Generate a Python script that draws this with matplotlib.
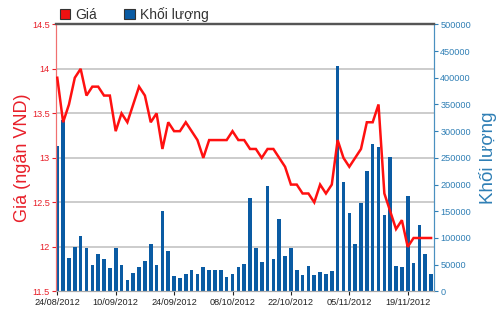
import matplotlib
matplotlib.use("Agg")
import matplotlib.pyplot as plt
from matplotlib.patches import Patch
import numpy as np
import pandas as pd

plt.rcParams['font.family'] = ['Liberation Sans', 'DejaVu Sans']

# trading days 24/08/2012 .. 23/11/2012 (03/09/2012 holiday)
dates = pd.bdate_range("2012-08-24", "2012-11-23", freq="C", holidays=["2012-09-03"])
date_labels = [d.strftime("%d/%m/%Y") for d in dates]

price = [13.9, 13.4, 13.6, 13.9, 14.0, 13.7, 13.8, 13.8, 13.7, 13.7,
         13.3, 13.5, 13.4, 13.6, 13.8, 13.7, 13.4, 13.5, 13.1, 13.4,
         13.3, 13.3, 13.4, 13.3, 13.2, 13.0, 13.2, 13.2, 13.2, 13.2,
         13.3, 13.2, 13.2, 13.1, 13.1, 13.0, 13.1, 13.1, 13.0, 12.9,
         12.7, 12.7, 12.6, 12.6, 12.5, 12.7, 12.6, 12.7, 13.2, 13.0,
         12.9, 13.0, 13.1, 13.4, 13.4, 13.6, 12.6, 12.4, 12.2, 12.3,
         12.0, 12.1, 12.1, 12.1, 12.1]

volume = [272000, 320000, 62000, 83000, 103000, 81000, 50000, 70000, 61000, 43000,
          81000, 50000, 22000, 34000, 45000, 57000, 88000, 50000, 151000, 76000,
          29000, 25000, 33000, 41000, 32000, 45000, 41000, 41000, 41000, 27000,
          32000, 45000, 51000, 175000, 81000, 55000, 197000, 61000, 135000, 67000,
          82000, 41000, 31000, 48000, 31000, 36000, 33000, 38000, 422000, 204000,
          146000, 89000, 166000, 226000, 276000, 271000, 143000, 251000, 48000, 46000,
          178000, 53000, 125000, 70000, 33000]

tick_every = 10
price_ticks = [11.5, 12, 12.5, 13, 13.5, 14, 14.5]
price_tick_labels = ["11.5", "12", "12.5", "13", "13.5", "14", "14.5"]
vol_ticks = list(range(0, 500001, 50000))

RED = "#ff1010"
LRED = "#e8202a"
BLUE = "#0a5ba3"
LBLUE = "#2f7fb5"

fig = plt.figure(figsize=(5.0, 3.12), dpi=100)
ax = fig.add_axes([0.112, 0.066, 0.756, 0.856])
ax2 = ax.twinx()

x = np.arange(len(dates))
ax2.bar(x, volume, width=0.62, color=BLUE, zorder=2)
ax.plot(x, price, color=RED, lw=1.8, zorder=5, solid_joinstyle='miter')

ax.set_zorder(ax2.get_zorder() + 1)
ax.patch.set_visible(False)

ax.set_xlim(-0.22, len(dates) - 0.5)
ax.set_ylim(11.5, 14.5)
ax2.set_ylim(0, 500000)

ax.set_yticks(price_ticks)
ax.set_yticklabels(price_tick_labels)
ax2.set_yticks(vol_ticks)
ax2.set_yticklabels([str(v) for v in vol_ticks])

ax.set_xticks(x[::tick_every])
ax.set_xticklabels(date_labels[::tick_every])

# grid (drawn on volume axes so it sits behind bars)
for t in price_ticks[1:-1]:
    ax2.axhline((t - 11.5) / 3.0 * 500000, color="#c8c8c8", lw=1.3, zorder=1)

ax.tick_params(axis='y', colors=LRED, labelsize=6.6, length=3, width=0.8, pad=1.5)
ax.tick_params(axis='x', colors="#222222", labelsize=6.6, length=3, width=0.8, pad=1.5)
ax2.tick_params(axis='y', colors=LBLUE, labelsize=6.6, length=3, width=0.8, pad=1.5)
for lab in ax.get_yticklabels():
    lab.set_color(LRED)
for lab in ax2.get_yticklabels():
    lab.set_color(LBLUE)

for a in (ax, ax2):
    a.spines['top'].set_color("#555555")
    a.spines['top'].set_linewidth(1.6)
    a.spines['bottom'].set_color("#aaaaaa")
    a.spines['bottom'].set_linewidth(0.8)
    a.spines['left'].set_color("#f07070")
    a.spines['left'].set_linewidth(0.8)
    a.spines['right'].set_color("#4a90c0")
    a.spines['right'].set_linewidth(0.8)

ax.set_ylabel("Giá (ngân VND)", color=LRED, fontsize=13, labelpad=0.5)
ax2.set_ylabel("Khối lượng", color=LBLUE, fontsize=13.5, labelpad=6)

handles = [Patch(facecolor="#ee1111", edgecolor="#333333", lw=0.8, label="Giá"),
           Patch(facecolor=BLUE, edgecolor="#333333", lw=0.8, label="Khối lượng")]
fig.legend(handles=handles, loc="upper left", bbox_to_anchor=(0.094, 1.018), ncol=2,
           frameon=False, fontsize=10, handlelength=0.75, handleheight=0.75,
           handletextpad=0.35, columnspacing=2.0, labelcolor="#333333")

fig.savefig("out.png", dpi=100)
